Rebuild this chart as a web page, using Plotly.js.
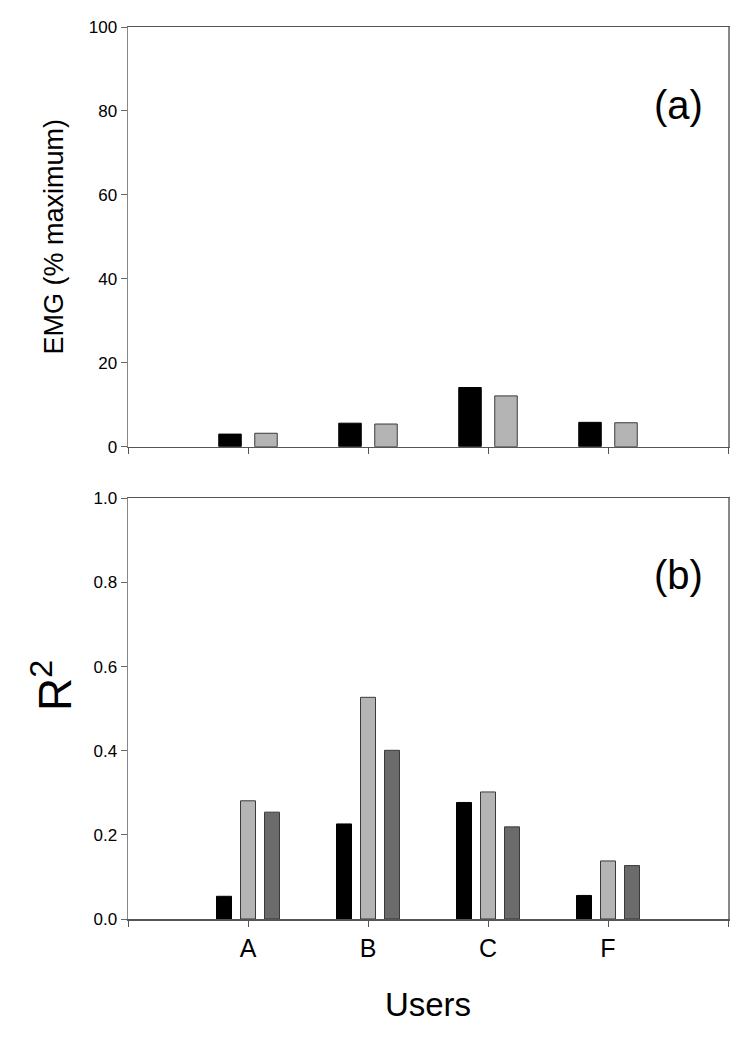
<!DOCTYPE html>
<html>
<head>
<meta charset="utf-8">
<script src="https://cdn.plot.ly/plotly-3.0.1.min.js"></script>
<style>html,body{margin:0;padding:0;background:#fff;}#chart{width:743px;height:1050px;}</style>
</head>
<body>
<div id="chart"></div>
<script>
// Data
const users = ["A", "B", "C", "F"];
const emgSeries1 = [3.0, 5.6, 14.1, 5.8];   // black bars, panel (a)
const emgSeries2 = [3.2, 5.4, 12.1, 5.7];   // light grey bars, panel (a)
const r2Series1 = [0.054, 0.226, 0.277, 0.056]; // black bars, panel (b)
const r2Series2 = [0.281, 0.527, 0.302, 0.138]; // light grey bars, panel (b)
const r2Series3 = [0.254, 0.401, 0.219, 0.127]; // dark grey bars, panel (b)
const emgTicks = [0, 20, 40, 60, 80, 100];
const r2Ticks = [0, 0.2, 0.4, 0.6, 0.8, 1.0];

const xPos = users.map((u, i) => i + 1);
const FONT = "Liberation Sans, Arial, sans-serif";
const BLACK = "#000000", LIGHT = "#b4b4b4", DARK = "#6b6b6b";

function bar(y, color, xa, ya, lineColor) {
  return {
    type: "bar", x: xPos, y: y, xaxis: xa, yaxis: ya,
    marker: {color: color, line: {color: lineColor, width: 1}},
    showlegend: false, hoverinfo: "skip"
  };
}

const traces = [
  bar(emgSeries1, BLACK, "x", "y", "#000"),
  bar(emgSeries2, LIGHT, "x", "y", "#3a3a3a"),
  bar(r2Series1, BLACK, "x2", "y2", "#000"),
  bar(r2Series2, LIGHT, "x2", "y2", "#3a3a3a"),
  bar(r2Series3, DARK, "x2", "y2", "#3a3a3a")
];

const xCommon = {
  range: [0, users.length + 1], tickmode: "array", tickvals: xPos,
  ticks: "outside", ticklen: 6, tickcolor: "#555", tickwidth: 1,
  minor: {tickmode: "array", tickvals: [0, users.length + 1], ticks: "outside", ticklen: 6, tickcolor: "#555", tickwidth: 1},
  showline: true, linecolor: "#555", linewidth: 1.5, mirror: true,
  showgrid: false, zeroline: false, fixedrange: true
};
const yCommon = {
  ticks: "outside", ticklen: 6, tickcolor: "#666", tickwidth: 1,
  showline: true, linecolor: "#888", linewidth: 1.5, mirror: true,
  showgrid: false, zeroline: false, fixedrange: true,
  tickfont: {family: FONT, size: 17, color: "#000"}
};

const layout = {
  width: 743, height: 1050,
  margin: {l: 128, r: 15, t: 27, b: 131},
  paper_bgcolor: "#fff", plot_bgcolor: "#fff",
  font: {family: FONT, color: "#000"},
  barmode: "group", bargap: 0.4, bargroupgap: 0.375,
  xaxis: Object.assign({}, xCommon, {
    anchor: "y", domain: [0, 1], showticklabels: false
  }),
  yaxis: Object.assign({}, yCommon, {
    anchor: "x", domain: [0.5295, 1], range: [0, 100], tickmode: "array", tickvals: emgTicks,
    title: {text: "EMG (% maximum)", font: {family: FONT, size: 27, color: "#000"}, standoff: 17}
  }),
  xaxis2: Object.assign({}, xCommon, {
    anchor: "y2", domain: [0, 1],
    ticktext: users,
    tickfont: {family: FONT, size: 25, color: "#000"},
    title: {text: "Users", font: {family: FONT, size: 33, color: "#000"}, standoff: 32}
  }),
  yaxis2: Object.assign({}, yCommon, {
    anchor: "x2", domain: [0, 0.4716], range: [0, 1], tickmode: "array", tickvals: r2Ticks, tickformat: ".1f"
  }),
  annotations: [
    {text: "R<sup>2</sup>", xref: "paper", yref: "paper", x: -0.127, y: 0.262, xanchor: "center", yanchor: "middle",
     textangle: -90, showarrow: false, font: {family: FONT, size: 46, color: "#000"}},
    {text: "(a)", xref: "paper", yref: "paper", x: 0.917, y: 0.912, xanchor: "center", yanchor: "middle",
     showarrow: false, font: {family: FONT, size: 40, color: "#000"}},
    {text: "(b)", xref: "paper", yref: "paper", x: 0.917, y: 0.386, xanchor: "center", yanchor: "middle",
     showarrow: false, font: {family: FONT, size: 40, color: "#000"}}
  ]
};

Plotly.newPlot("chart", traces, layout, {displayModeBar: false, staticPlot: true});
</script>
</body>
</html>
